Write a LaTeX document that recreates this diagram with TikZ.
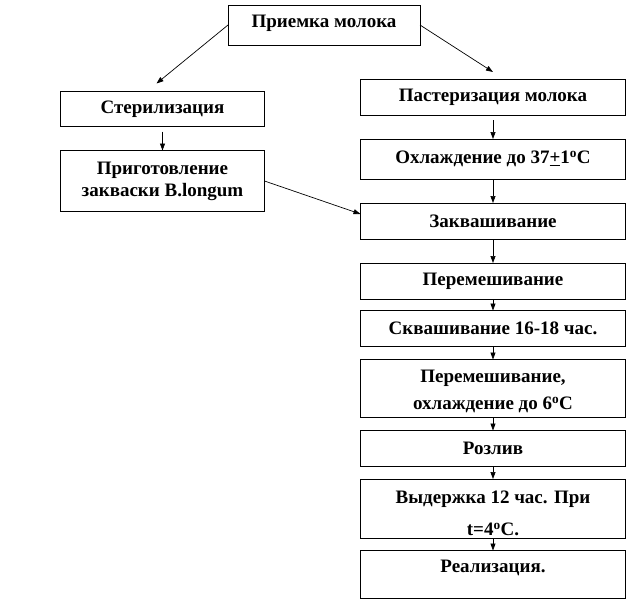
\documentclass[tikz,border=0pt]{standalone}
\usepackage{fontspec}
\setmainfont{Liberation Serif}
\usepackage{tikz}
\usetikzlibrary{arrows.meta}
\usetikzlibrary{positioning}

\newcommand{\upstrut}[1]{\rule{0pt}{#1}}

\begin{document}
\begin{tikzpicture}
        [>={Triangle[length=7pt,width=5pt]},
         box/.style={draw, line width=0.8pt, align=center, inner sep=2pt, outer sep=0pt,
                     minimum width=265pt, minimum height=36pt,
                     font=\fontsize{19}{22}\selectfont\bfseries},
         link/.style={->, line width=0.7pt}]
        \useasboundingbox (0,0) rectangle (635pt,-603pt);

        \node [box, minimum width=192pt, minimum height=40pt, text depth=7pt] (priem) at (324pt,-25pt) {Приемка молока};
        \node [box, minimum width=204pt, minimum height=35pt] (steril) at (162.5pt,-109pt) {Стерилизация};
        \node [box, minimum width=204pt, minimum height=61pt, below=24pt of steril] (prep) {Приготовление\\закваски B.longum};

        \node [box] (past) at (493pt,-97pt) {Пастеризация молока};
        \node [box, minimum height=40pt, below=24pt of past] (cool) {Охлаждение до 37\underline{+}1\textsuperscript{o}C};
        \node [box, below=24pt of cool] (ferm) {Заквашивание};
        \node [box, below=24pt of ferm] (mix) {Перемешивание};
        \node [box, below=11.5pt of mix] (sour) {Сквашивание 16-18 час.};
        \node [box, minimum height=58pt, below=13pt of sour] (mixcool) {\upstrut{19pt}Перемешивание,\\[5pt]охлаждение до 6\textsuperscript{o}C};
        \node [box, below=13pt of mixcool] (pour) {Розлив};
        \node [box, minimum height=59pt, inner ysep=0pt, below=12.5pt of pour] (hold) {\upstrut{22pt}Выдержка 12 час. При\\[10pt]t=4\textsuperscript{o}C.};
        \node [box, minimum height=48pt, text depth=17pt, below=12.5pt of hold] (sale) {Реализация.};

        \draw [link] (priem.west) -- ([shift={(-6pt,8pt)}]steril.north);
        \draw [link] (priem.east) -- ([yshift=7pt]past.north);
        \draw [link, shorten <=5pt] (steril) -- (prep);
        \draw [link] (prep.east) -- ([yshift=7pt]ferm.west);

        \draw [link, shorten <=5pt] (past) -- (cool);
        \draw [link] (cool) -- (ferm);
        \draw [link] (ferm) -- (mix);
        \draw [link] (mix) -- (sour);
        \draw [link] (sour) -- (mixcool);
        \draw [link] (mixcool) -- (pour);
        \draw [link] (pour) -- (hold);
        \draw [link] (hold) -- (sale);
    \end{tikzpicture}
\end{document}
